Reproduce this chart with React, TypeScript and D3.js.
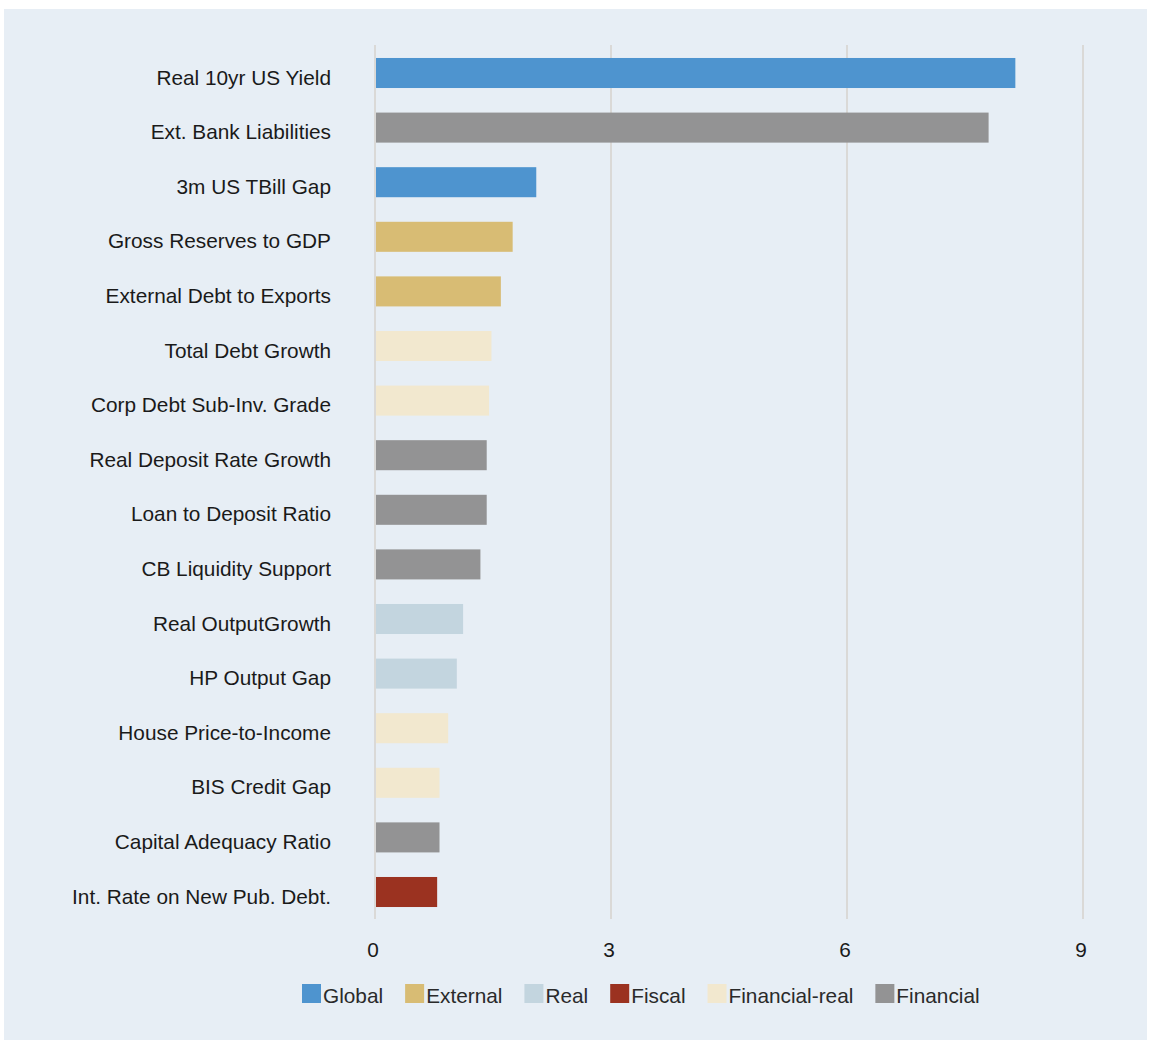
import React, { useEffect, useRef } from "react";
import * as d3 from "d3";

const categories = [
  "Real 10yr US Yield",
  "Ext. Bank Liabilities",
  "3m US TBill Gap",
  "Gross Reserves to GDP",
  "External Debt to Exports",
  "Total Debt Growth",
  "Corp Debt Sub-Inv. Grade",
  "Real Deposit Rate Growth",
  "Loan to Deposit Ratio",
  "CB Liquidity Support",
  "Real OutputGrowth",
  "HP Output Gap",
  "House Price-to-Income",
  "BIS Credit Gap",
  "Capital Adequacy Ratio",
  "Int. Rate on New Pub. Debt.",
];
const values = [8.14, 7.8, 2.05, 1.75, 1.6, 1.48, 1.45, 1.42, 1.42, 1.34, 1.12, 1.04, 0.93, 0.82, 0.82, 0.79];
const groups = [
  "Global", "Financial", "Global", "External", "External", "Financial-real", "Financial-real",
  "Financial", "Financial", "Financial", "Real", "Real", "Financial-real", "Financial-real",
  "Financial", "Fiscal",
];
const legendNames = ["Global", "External", "Real", "Fiscal", "Financial-real", "Financial"];
const legendColors = ["#4E94CF", "#D8BC74", "#C3D5DF", "#9B3220", "#F2E8CF", "#939394"];
const tickValues = [0, 3, 6, 9];

const W = 1151;
const H = 1045;
const FONT = "'Liberation Sans', Arial, Helvetica, sans-serif";

export default function App() {
  const ref = useRef<SVGSVGElement | null>(null);

  useEffect(() => {
    const svg = d3.select(ref.current);
    svg.selectAll("*").remove();

    svg.append("rect").attr("x", 0).attr("y", 0).attr("width", W).attr("height", H).attr("fill", "#ffffff");
    svg.append("rect").attr("x", 4).attr("y", 9).attr("width", 1143).attr("height", 1031).attr("fill", "#E7EEF5");

    const x = d3.scaleLinear().domain([0, 9]).range([375, 1083]);
    const y = d3.scaleBand<string>().domain(categories).range([45.7, 919.3]).paddingInner(0.45).paddingOuter(0.225);
    const color = d3.scaleOrdinal<string, string>().domain(legendNames).range(legendColors);

    // grid
    svg.append("g").selectAll("line").data(tickValues).join("line")
      .attr("x1", (d) => x(d)).attr("x2", (d) => x(d))
      .attr("y1", 45).attr("y2", 919)
      .attr("stroke", "#DAD9D7").attr("stroke-width", 2);

    // bars
    svg.append("g").selectAll("rect").data(categories).join("rect")
      .attr("x", x(0) + 1)
      .attr("y", (d) => y(d)!)
      .attr("width", (d, i) => x(values[i]) - x(0) - 1)
      .attr("height", y.bandwidth())
      .attr("fill", (d, i) => color(groups[i]));

    // category labels
    svg.append("g").selectAll("text").data(categories).join("text")
      .attr("x", 331)
      .attr("y", (d) => y(d)! + y.bandwidth() / 2 + 11.5)
      .attr("text-anchor", "end")
      .attr("font-family", FONT).attr("font-size", 20.8).attr("fill", "#1a1a1a")
      .text((d) => d);

    // tick labels
    svg.append("g").selectAll("text").data(tickValues).join("text")
      .attr("x", (d) => x(d) - 2)
      .attr("y", 957)
      .attr("text-anchor", "middle")
      .attr("font-family", FONT).attr("font-size", 20.8).attr("fill", "#1a1a1a")
      .text((d) => String(d));

    // legend
    const lg = svg.append("g");
    let lx = 302;
    legendNames.forEach((name, i) => {
      lg.append("rect").attr("x", lx).attr("y", 984).attr("width", 19).attr("height", 19).attr("fill", legendColors[i]);
      const t = lg.append("text").attr("x", lx + 21).attr("y", 1003)
        .attr("font-family", FONT).attr("font-size", 20.8).attr("fill", "#2a2a2a").text(name);
      const w = (t.node() as SVGTextElement).getComputedTextLength();
      lx = lx + 21 + w + 22;
    });
  }, []);

  return (
    <div style={{ position: "absolute", left: 0, top: 0 }}>
      <svg ref={ref} width={W} height={H} style={{ display: "block" }} />
    </div>
  );
}
